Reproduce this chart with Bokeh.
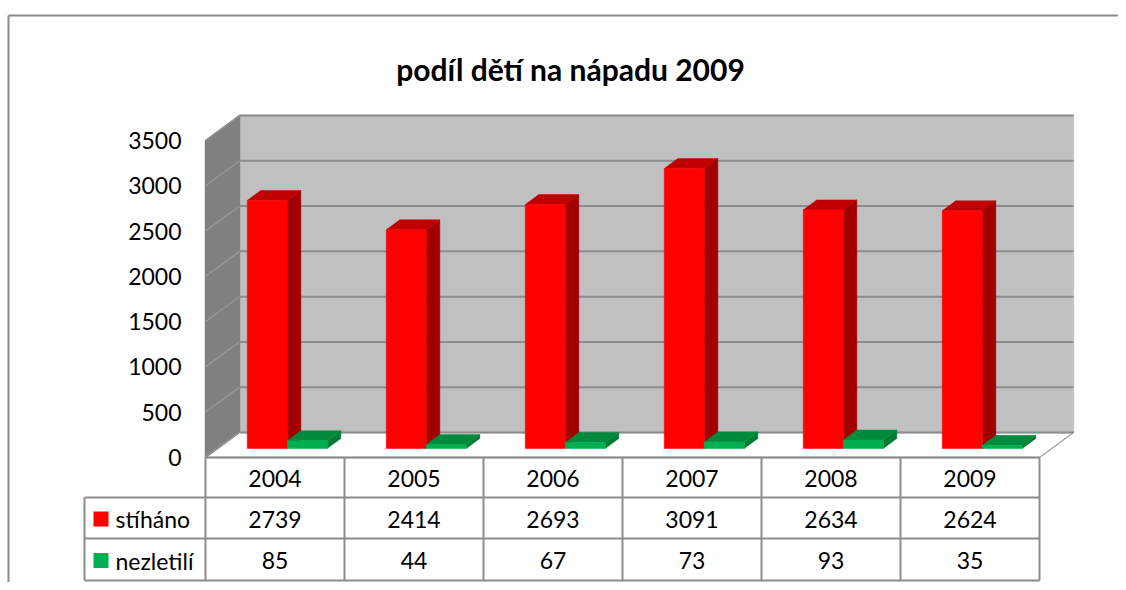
from bokeh.plotting import figure
from bokeh.models import Range1d
from bokeh.core.properties import value
from bokeh.embed import file_html
from bokeh.resources import INLINE

# ---------------- data ----------------
years = ["2004", "2005", "2006", "2007", "2008", "2009"]
stihano = [2739, 2414, 2693, 3091, 2634, 2624]
nezletili = [85, 44, 67, 73, 93, 35]
series_names = ["stíháno", "nezletilí"]
y_ticks = [0, 500, 1000, 1500, 2000, 2500, 3000, 3500]
title = "podíl dětí na nápadu 2009"

# ---------------- layout (page pixels) ----------------
W, H = 1118, 582
M = 0
X0 = 205.0          # front-plane left of first category
CW = 139.0          # category width in px
Y0 = 457.0          # front-plane value 0
YMAX = 3500
YS = (457.0 - 140.0) / YMAX   # px per value unit
DEPTH_PX_X, DEPTH_PX_Y = 34.0, 25.0

def PX(px):
    return (px - X0) / CW

def PY(py):
    return (Y0 - py) / YS

DX = DEPTH_PX_X / CW
DY = DEPTH_PX_Y / YS

def pt(xc, v, d):
    return (xc + d * DX, v + d * DY)

FONT = "Lato"
n = len(years)

p = figure(width=W, height=H, output_backend="svg", toolbar_location=None,
           x_range=Range1d(PX(M), PX(M + W)), y_range=Range1d(PY(M + H), PY(M)),
           min_border=0, outline_line_color=None)
p.axis.visible = False
p.grid.visible = False
p.background_fill_color = "white"

# ---- outer chart frame ----
p.segment(x0=[PX(8), PX(8)], y0=[PY(15), PY(15)], x1=[PX(8), PX(1130)], y1=[PY(600), PY(15)],
          line_color="#8C8C8C", line_width=2)

# ---- title ----
p.text(x=[PX(570)], y=[PY(68)], text=[title], text_font=value(FONT), text_font_style="bold",
       text_font_size="30px", text_align="center", text_baseline="alphabetic", text_color="black")

# ---- walls ----
def poly(pts):
    return [q[0] for q in pts], [q[1] for q in pts]

bx, by = poly([pt(0, 0, 1), pt(n, 0, 1), pt(n, YMAX, 1), pt(0, YMAX, 1)])
sx, sy = poly([pt(0, 0, 0), pt(0, 0, 1), pt(0, YMAX, 1), pt(0, YMAX, 0)])
fx, fy = poly([pt(0, 0, 0), pt(n, 0, 0), pt(n, 0, 1), pt(0, 0, 1)])
p.patches(xs=[bx, sx, fx], ys=[by, sy, fy], fill_color=["#C0C0C0", "#808080", "#FFFFFF"],
          line_color=["#C8C8C8", "#808080", "#A6A6A6"], line_width=1.5)

# gridlines on back wall and side wall
gx_back, gy_back, gx_side, gy_side = [], [], [], []
for t in y_ticks:
    a, b = pt(0, t, 1), pt(n, t, 1)
    gx_back.append([a[0], b[0]]); gy_back.append([a[1], b[1]])
    c = pt(0, t, 0)
    gx_side.append([c[0], a[0]]); gy_side.append([c[1], a[1]])
p.multi_line(xs=gx_side, ys=gy_side, line_color="#959595", line_width=1.5)
p.multi_line(xs=gx_back, ys=gy_back, line_color="#8C8C8C", line_width=2)

# ---- axis tick labels (front plane) ----
p.text(x=[PX(181)] * len(y_ticks), y=y_ticks, text=[str(t) for t in y_ticks],
       text_font=value(FONT), text_font_size="23px", text_align="right",
       text_baseline="middle", text_color="black")

# ---- 3D bars ----
D_FRONT, D_BACK = 0.36, 0.76
GAP = 29.5 / CW
BW = 40.0 / CW
series = [(stihano, "#FF0000", "#C00000", "#A00000"),
          (nezletili, "#00B050", "#008A3E", "#007A35")]
xs, ys, cols = [], [], []
for i in range(n):
    for k, (vals, cf, ct, cs) in enumerate(series):
        v = vals[i]
        x1 = i + GAP + k * BW
        x2 = x1 + BW
        f = poly([pt(x1, 0, D_FRONT), pt(x2, 0, D_FRONT), pt(x2, v, D_FRONT), pt(x1, v, D_FRONT)])
        tp = poly([pt(x1, v, D_FRONT), pt(x2, v, D_FRONT), pt(x2, v, D_BACK), pt(x1, v, D_BACK)])
        sd = poly([pt(x2, 0, D_FRONT), pt(x2, 0, D_BACK), pt(x2, v, D_BACK), pt(x2, v, D_FRONT)])
        for shape, c in ((sd, cs), (tp, ct), (f, cf)):
            xs.append(shape[0]); ys.append(shape[1]); cols.append(c)
p.patches(xs=xs, ys=ys, fill_color=cols, line_color=cols, line_width=0.5)

# ---- data table ----
ROW_Y = [457, 497, 538, 580]
LEG_X = 84
lc = "#8C8C8C"
hx0, hx1, hy = [], [], []
# header top (front floor edge)
hx0.append(PX(X0)); hx1.append(PX(X0 + CW * n)); hy.append(PY(ROW_Y[0]))
for ry in ROW_Y[1:]:
    hx0.append(PX(LEG_X)); hx1.append(PX(X0 + CW * n)); hy.append(PY(ry))
p.segment(x0=hx0, y0=hy, x1=hx1, y1=hy, line_color=lc, line_width=2)
vx = [PX(LEG_X)] + [float(i) for i in range(n + 1)]
vy0 = [PY(ROW_Y[1])] + [PY(ROW_Y[0])] * (n + 1)
vy1 = [PY(ROW_Y[3])] * (n + 2)
p.segment(x0=vx, y0=vy0, x1=vx, y1=vy1, line_color=lc, line_width=2)

centers = [i + 0.5 for i in range(n)]
row_mid = [(ROW_Y[r] + ROW_Y[r + 1]) / 2 + 1 for r in range(3)]
p.text(x=centers, y=[PY(row_mid[0])] * n, text=years, text_font=value(FONT),
       text_font_size="23px", text_align="center", text_baseline="middle", text_color="black")
p.text(x=centers, y=[PY(row_mid[1])] * n, text=[str(v) for v in stihano], text_font=value(FONT),
       text_font_size="23px", text_align="center", text_baseline="middle", text_color="black")
p.text(x=centers, y=[PY(row_mid[2])] * n, text=[str(v) for v in nezletili], text_font=value(FONT),
       text_font_size="23px", text_align="center", text_baseline="middle", text_color="black")

# legend keys in table
p.rect(x=[PX(100.5)] * 2, y=[PY(row_mid[1]), PY(row_mid[2])], width=15, height=15,
       width_units="screen", height_units="screen", fill_color=["#FF0000", "#00B050"], line_color=None)
p.text(x=[PX(115)] * 2, y=[PY(row_mid[1]), PY(row_mid[2])], text=series_names, text_font=value(FONT),
       text_font_size="23px", text_align="left", text_baseline="middle", text_color="black")

open("out.html", "w").write(file_html(p, INLINE))
